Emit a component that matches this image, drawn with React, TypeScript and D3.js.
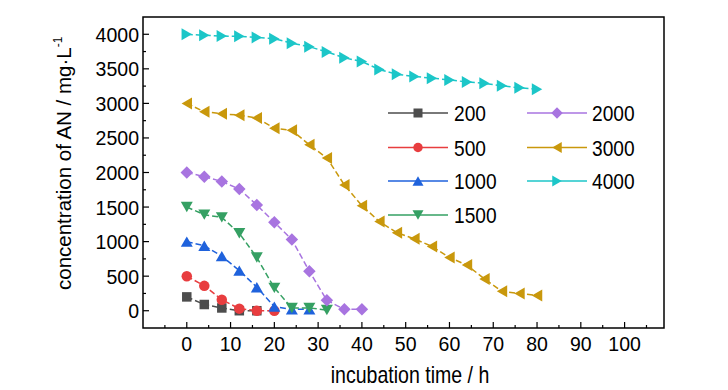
import React from 'react';
import * as d3 from 'd3';

// sampling times (h) and measured AN concentrations (mg/L) per initial dose
const hours = [0, 4, 8, 12, 16, 20, 24, 28, 32, 36, 40, 44, 48, 52, 56, 60, 64, 68, 72, 76, 80];
const an200 = [200, 90, 40, 0, 0];
const an500 = [500, 360, 160, 30, 0, 0];
const an1000 = [1000, 940, 790, 580, 340, 60, 20, 20];
const an1500 = [1500, 1390, 1350, 1120, 770, 330, 40, 40, 10];
const an2000 = [2000, 1940, 1870, 1760, 1530, 1280, 1030, 570, 150, 20, 20];
const an3000 = [3000, 2880, 2850, 2830, 2790, 2640, 2610, 2400, 2210, 1820, 1520, 1290, 1130, 1040, 930, 770, 660, 460, 280, 250, 220];
const an4000 = [4000, 3985, 3975, 3970, 3955, 3935, 3870, 3820, 3745, 3660, 3605, 3490, 3420, 3390, 3365, 3340, 3310, 3290, 3255, 3225, 3205];

const xTicks = [0, 10, 20, 30, 40, 50, 60, 70, 80, 90, 100];
const xMinor = [-5, 5, 15, 25, 35, 45, 55, 65, 75, 85, 95, 105];
const yTicks = [0, 500, 1000, 1500, 2000, 2500, 3000, 3500, 4000];
const yMinor = [250, 750, 1250, 1750, 2250, 2750, 3250, 3750];

type Shape = 'square' | 'circle' | 'up' | 'down' | 'diamond' | 'left' | 'right';

const series: { name: string; values: number[]; color: string; shape: Shape }[] = [
  { name: '200', values: an200, color: '#4d4d4d', shape: 'square' },
  { name: '500', values: an500, color: '#e83d3f', shape: 'circle' },
  { name: '1000', values: an1000, color: '#1f62dc', shape: 'up' },
  { name: '1500', values: an1500, color: '#35a063', shape: 'down' },
  { name: '2000', values: an2000, color: '#a874e0', shape: 'diamond' },
  { name: '3000', values: an3000, color: '#c9980c', shape: 'left' },
  { name: '4000', values: an4000, color: '#1cc6c8', shape: 'right' },
];

// no narrow font available, so Liberation Sans gets squeezed horizontally
const FONT = '"Liberation Sans", Arial, sans-serif';

const margin = { left: 143, right: 64, top: 17, bottom: 62 };
const W = 728;
const H = 390;

const NText = ({ x, y, anchor = 'start', size = 22, sq = 0.87, children }: { x: number; y: number; anchor?: string; size?: number; sq?: number; children: React.ReactNode }) => (
  <text transform={`translate(${x},${y}) scale(${sq},1)`} textAnchor={anchor} fontSize={size}>{children}</text>
);

const marker = (shape: Shape, s: number): React.ReactNode => {
  const h = s * 0.866;
  switch (shape) {
    case 'square':
      return <rect x={-s / 2} y={-s / 2} width={s} height={s} />;
    case 'circle':
      return <circle r={s / 2} />;
    case 'diamond':
      return <path d={`M0,${-s / 2}L${s / 2},0L0,${s / 2}L${-s / 2},0Z`} />;
    default: {
      const rot = { up: 0, right: 90, down: 180, left: 270 }[shape as 'up'];
      return <path d={`M0,${-h / 2}L${s / 2},${h / 2}L${-s / 2},${h / 2}Z`} transform={`rotate(${rot})`} />;
    }
  }
};

const plotSize: Record<Shape, number> = { square: 9.5, circle: 10.5, up: 12, down: 12, left: 12, right: 12, diamond: 12.5 };
const legendSize: Record<Shape, number> = { square: 9, circle: 9.5, up: 11, down: 11, left: 11, right: 11, diamond: 11.5 };

export default function App() {
  const x = d3.scaleLinear().domain([-10, 109]).range([margin.left, W - margin.right]);
  const y = d3.scaleLinear().domain([-250, 4250]).range([H - margin.bottom, margin.top]);
  const line = d3.line<number>().x((_, i) => x(hours[i])).y(d => y(d));

  const x0 = x.range()[0], x1 = x.range()[1];
  const y0 = y.range()[0], y1 = y.range()[1];

  const legendRows = [113, 147.5, 181, 215];
  const legendCols = [{ l: 388, r: 448, t: 454 }, { l: 527, r: 587, t: 592 }];

  return (
    <svg width={W} height={H} style={{ position: 'absolute', left: 0, top: 0, background: '#fff' }} fontFamily={FONT}>
      {/* data */}
      {series.map(s => (
        <g key={s.name}>
          <path d={line(s.values) ?? ''} fill="none" stroke={s.color} strokeWidth={1.5} strokeDasharray="6,3" />
          {s.values.map((v, i) => (
            <g key={i} transform={`translate(${x(hours[i])},${y(v)})`} fill={s.color}>
              {marker(s.shape, plotSize[s.shape])}
            </g>
          ))}
        </g>
      ))}

      {/* frame */}
      <rect x={x0} y={y1} width={x1 - x0} height={y0 - y1} fill="none" stroke="#000" strokeWidth={1.5} />
      {xTicks.map(t => (
        <g key={t}>
          <line x1={x(t)} x2={x(t)} y1={y0} y2={y0 - 6} stroke="#000" strokeWidth={1.2} />
          <NText x={x(t)} y={351} anchor="middle" size={21} sq={0.93}>{t}</NText>
        </g>
      ))}
      {xMinor.map(t => (
        <line key={t} x1={x(t)} x2={x(t)} y1={y0} y2={y0 - 3} stroke="#000" strokeWidth={1.2} />
      ))}
      {yTicks.map(t => (
        <g key={t}>
          <line x1={x0} x2={x0 + 6} y1={y(t)} y2={y(t)} stroke="#000" strokeWidth={1.2} />
          <NText x={139} y={y(t) + 7.5} anchor="end" size={21} sq={0.93}>{t}</NText>
        </g>
      ))}
      {yMinor.map(t => (
        <line key={t} x1={x0} x2={x0 + 3} y1={y(t)} y2={y(t)} stroke="#000" strokeWidth={1.2} />
      ))}

      {/* axis titles */}
      <NText x={410} y={383} anchor="middle" size={23} sq={0.85}>incubation time / h</NText>
      <text transform="translate(71,290) rotate(-90)" fontSize={20.5}>
        concentration of AN / mg·L
        <tspan fontSize={12} dy={-9}>-1</tspan>
      </text>

      {/* legend */}
      {series.map((s, i) => {
        const col = legendCols[i < 4 ? 0 : 1];
        const ry = legendRows[i < 4 ? i : i - 4];
        return (
          <g key={s.name}>
            <line x1={col.l} x2={col.r} y1={ry} y2={ry} stroke={s.color} strokeWidth={1.3} />
            <g transform={`translate(${(col.l + col.r) / 2},${ry})`} fill={s.color}>
              {marker(s.shape, legendSize[s.shape])}
            </g>
            <NText x={col.t} y={ry + 8}>{s.name}</NText>
          </g>
        );
      })}
    </svg>
  );
}
